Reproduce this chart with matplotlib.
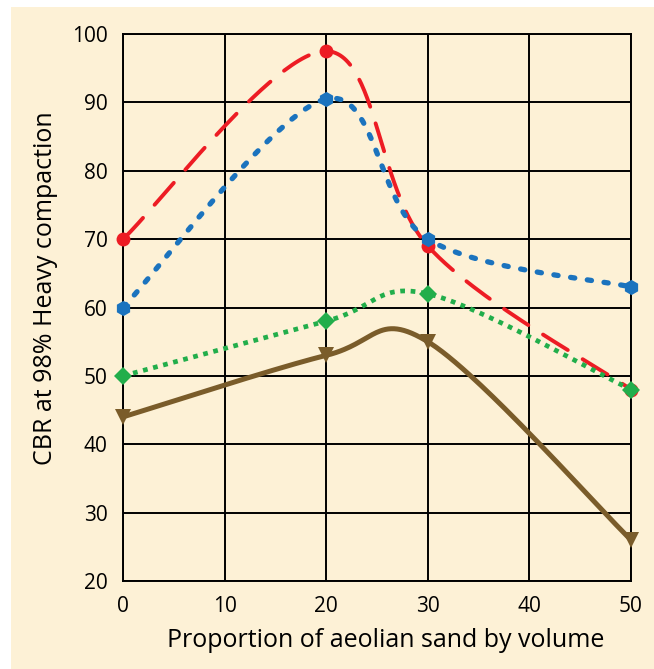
import numpy as np
import matplotlib
matplotlib.use("Agg")
import matplotlib.pyplot as plt
from matplotlib.patches import Rectangle

plt.rcParams['font.family'] = ['Open Sans', 'DejaVu Sans']

x_vals = [0, 20, 30, 50]
red_vals = [70, 97.5, 69, 48]
blue_vals = [60, 90.5, 70, 63]
green_vals = [50, 58, 62, 48]
brown_vals = [44, 53, 55, 26]

x_ticks = [0, 10, 20, 30, 40, 50]
y_ticks = [20, 30, 40, 50, 60, 70, 80, 90, 100]
x_label = "Proportion of aeolian sand by volume"
y_label = "CBR at 98% Heavy compaction"

cream = "#FDF1D6"


def smooth(xs, ys, n=60):
    P = np.column_stack([xs, ys]).astype(float)
    m = len(P)
    out = []
    for i in range(m - 1):
        p0 = P[i]
        p3 = P[i + 1]
        prev = P[i - 1] if i > 0 else P[i]
        nxt = P[i + 2] if i + 2 < m else P[i + 1]
        c1 = p0 + (p3 - prev) / 6.0
        c2 = p3 - (nxt - p0) / 6.0
        t = np.linspace(0, 1, n)[:, None]
        seg = ((1 - t) ** 3) * p0 + 3 * ((1 - t) ** 2) * t * c1 + 3 * (1 - t) * t ** 2 * c2 + t ** 3 * p3
        if i > 0:
            seg = seg[1:]
        out.append(seg)
    out = np.vstack(out)
    return out[:, 0], out[:, 1]


fig = plt.figure(figsize=(6.54, 6.69), dpi=100, facecolor='white')
fig.patches.append(Rectangle((11 / 654, 0), 1, 1 - 7 / 669, transform=fig.transFigure,
                             facecolor=cream, edgecolor='none', zorder=-10))
ax = fig.add_axes([123 / 654, 1 - 581 / 669, (631 - 123) / 654, (581 - 34) / 669])
ax.set_zorder(1)
ax.set_facecolor(cream)
ax.set_xlim(0, 50)
ax.set_ylim(20, 100)
ax.set_xticks(x_ticks)
ax.set_yticks(y_ticks)
ax.grid(True, color='black', linewidth=1.4)
ax.set_axisbelow(True)
for s in ax.spines.values():
    s.set_linewidth(1.4)
    s.set_color('black')
ax.tick_params(length=0, labelsize=15)
ax.tick_params(axis='x', pad=11)
ax.tick_params(axis='y', pad=11)
ax.set_xlabel(x_label, fontsize=18)
ax.set_ylabel(y_label, fontsize=18)
ax.xaxis.label.set_va('center')
ax.yaxis.label.set_va('center')
ax.xaxis.set_label_coords(0.518, -0.108)
ax.yaxis.set_label_coords(-0.153, 0.536)

series = [
    (red_vals, "#ED1C24", (0, (7.5, 4.5)), 'o', 10, 'round', 2.8),
    (blue_vals, "#1B73BE", (0, (0.8, 2.4)), 'h', 11, 'round', 3.8),
    (green_vals, "#22AE4B", (0, (1, 1.2)), 'D', 9, 'butt', 3.4),
    (brown_vals, "#7A5C2A", '-', 'v', 11, 'round', 3.6),
]
for ys, col, ls, mk, ms, cap, lw in series:
    sx, sy = smooth(x_vals, ys)
    ax.plot(sx, sy, color=col, linestyle=ls, linewidth=lw, solid_capstyle=cap,
            dash_capstyle=cap, clip_on=False, zorder=3)
    ax.plot(x_vals, ys, linestyle='none', marker=mk, markersize=ms, color=col,
            markeredgewidth=0, clip_on=False, zorder=4)

fig.savefig("out.png", dpi=100)
